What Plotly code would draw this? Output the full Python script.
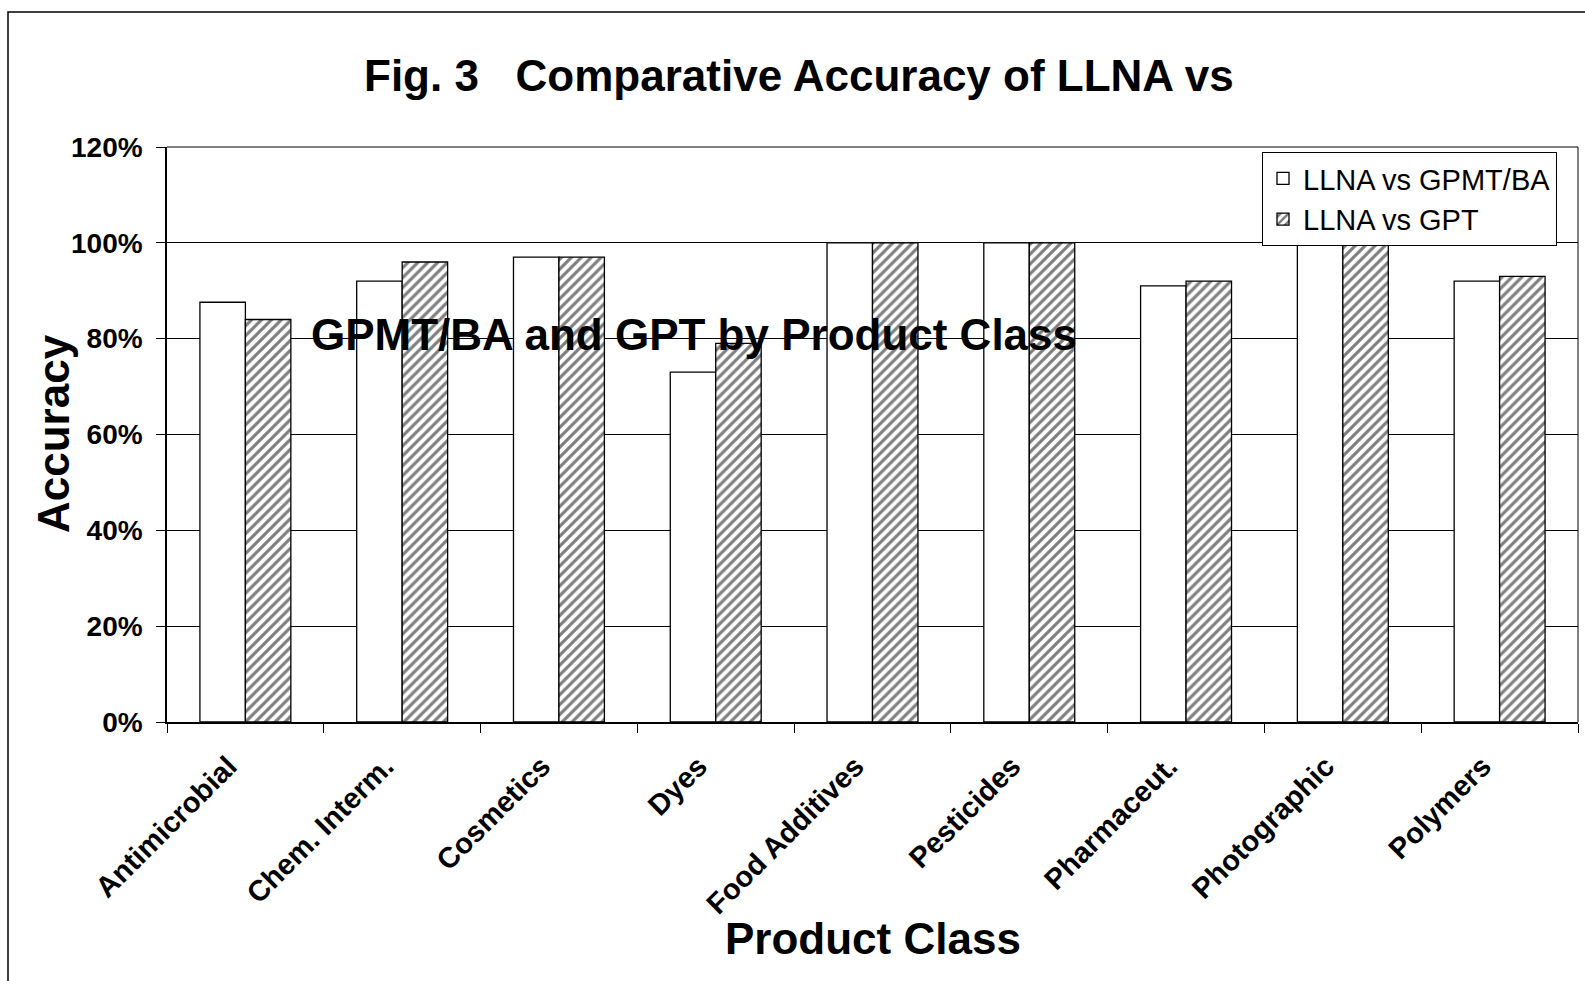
import plotly.graph_objects as go

categories = ["Antimicrobial", "Chem. Interm.", "Cosmetics", "Dyes", "Food Additives",
              "Pesticides", "Pharmaceut.", "Photographic", "Polymers"]
llna_vs_gpmt_ba = [0.876, 0.92, 0.97, 0.73, 1.00, 1.00, 0.91, 1.00, 0.92]
llna_vs_gpt = [0.84, 0.96, 0.97, 0.79, 1.00, 1.00, 0.92, 1.00, 0.93]
y_ticks = [0, 0.2, 0.4, 0.6, 0.8, 1.0, 1.2]
y_tick_labels = ["0%", "20%", "40%", "60%", "80%", "100%", "120%"]

FONT = "Arial, 'Liberation Sans', sans-serif"
W, H = 1585, 981
L, R, T, B = 167, 7, 147, 259
pw, ph = W - L - R, H - T - B


def px(x):
    return (x - L) / pw


def py(y):
    return (H - B - y) / ph


fig = go.Figure()
fig.add_trace(go.Bar(
    x=categories, y=llna_vs_gpmt_ba, name="LLNA vs GPMT/BA",
    marker=dict(color="white", line=dict(color="black", width=1.3)),
))
fig.add_trace(go.Bar(
    x=categories, y=llna_vs_gpt, name="LLNA vs GPT",
    marker=dict(color="white", line=dict(color="black", width=1.3),
                pattern=dict(shape="/", fgcolor="black", bgcolor="white",
                             size=7, solidity=0.45)),
))

fig.update_layout(
    width=W, height=H,
    margin=dict(l=L, r=R, t=T, b=B),
    paper_bgcolor="white", plot_bgcolor="white",
    barmode="group", bargap=0.42, bargroupgap=0,
    font=dict(family=FONT, color="black"),
    showlegend=True,
    legend=dict(x=px(1262), y=py(152), xanchor="left", yanchor="top",
                bordercolor="black", borderwidth=1, bgcolor="white",
                font=dict(family=FONT, size=29, color="black"),
                tracegroupgap=0, itemwidth=30),
)
fig.update_xaxes(
    showline=True, linecolor="black", linewidth=1.5, mirror=False,
    ticks="outside", ticklen=9, tickcolor="black", tickson="boundaries",
    tickangle=-45, ticklabelshift=-17, ticklabelstandoff=14,
    tickfont=dict(family=FONT, size=29, color="black", weight="bold"),
    showgrid=False,
)
fig.update_yaxes(
    range=[0, 1.2], tickvals=y_ticks, ticktext=y_tick_labels,
    showline=True, linecolor="black", linewidth=1.5,
    ticks="outside", ticklen=9, tickcolor="black", ticklabelstandoff=8,
    tickfont=dict(family=FONT, size=28, color="black", weight="bold"),
    showgrid=True, gridcolor="black", gridwidth=1,
    zeroline=False,
)

fig.add_shape(type="line", xref="paper", yref="paper", x0=0, x1=1, y0=1, y1=1,
              line=dict(color="black", width=1))
fig.add_shape(type="line", xref="paper", yref="paper", x0=1, x1=1, y0=0, y1=1,
              line=dict(color="black", width=1))
# outer chart border
fig.add_shape(type="rect", xref="paper", yref="paper", x0=px(8), x1=px(1600),
              y0=py(1000), y1=py(12), line=dict(color="black", width=1.5), layer="below")

fig.add_annotation(text="<b>Fig. 3\u00a0\u00a0\u00a0Comparative Accuracy of LLNA vs</b>",
                   xref="paper", yref="paper", x=px(799), y=py(76), showarrow=False,
                   xanchor="center", yanchor="middle",
                   font=dict(family=FONT, size=44, color="black"))
fig.add_annotation(text="<b>GPMT/BA and GPT by Product Class</b>",
                   xref="paper", yref="paper", x=px(694), y=py(334), showarrow=False,
                   xanchor="center", yanchor="middle",
                   font=dict(family=FONT, size=44, color="black"))
fig.add_annotation(text="<b>Product Class</b>",
                   xref="paper", yref="paper", x=px(873), y=py(938), showarrow=False,
                   xanchor="center", yanchor="middle",
                   font=dict(family=FONT, size=44, color="black"))
fig.add_annotation(text="<b>Accuracy</b>", textangle=-90,
                   xref="paper", yref="paper", x=px(53), y=py(434), showarrow=False,
                   xanchor="center", yanchor="middle",
                   font=dict(family=FONT, size=44, color="black"))

fig.write_html("out.html", config={"displayModeBar": False},
               post_script="document.body.style.margin='0';document.body.style.overflow='hidden';")
